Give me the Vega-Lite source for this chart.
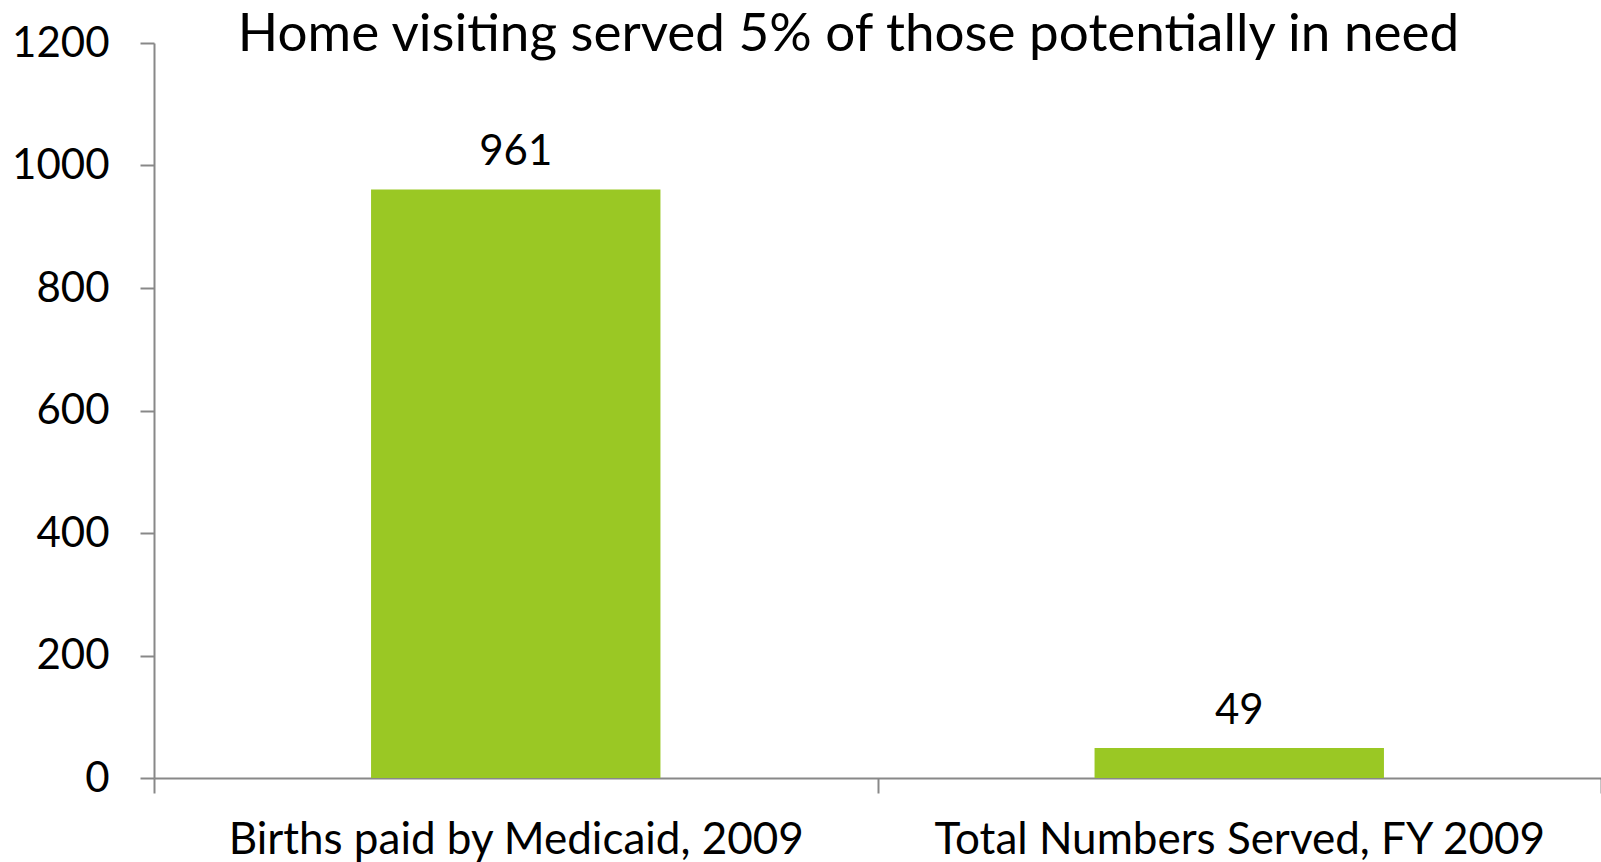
{
  "$schema": "https://vega.github.io/schema/vega-lite/v6.json",
  "autosize": {"type": "none"},
  "padding": {"left": 154, "top": 43, "right": 0, "bottom": 84},
  "width": 1447,
  "height": 735,
  "background": "white",
  "config": {"view": {"stroke": null}},
  "title": {
    "text": "Home visiting served 5% of those potentially in need",
    "font": "Lato",
    "fontSize": 53,
    "fontWeight": "normal",
    "color": "black",
    "anchor": "middle",
    "baseline": "alphabetic",
    "offset": 0,
    "dx": -29,
    "dy": 82
  },
  "data": {
    "values": [
      {"category": "Births paid by Medicaid, 2009", "value": 961},
      {"category": "Total Numbers Served, FY 2009", "value": 49}
    ]
  },
  "encoding": {
    "x": {
      "field": "category",
      "type": "nominal",
      "sort": null,
      "scale": {"paddingInner": 0, "paddingOuter": 0},
      "axis": {
        "title": null,
        "labelAngle": 0,
        "labelLimit": 0,
        "labelFont": "Lato",
        "labelFontSize": 44,
        "labelColor": "black",
        "labelPadding": 25,
        "domainColor": "#888888",
        "domainWidth": 2,
        "tickColor": "#888888",
        "tickWidth": 2,
        "tickSize": 15,
        "tickBand": "extent"
      }
    },
    "y": {
      "field": "value",
      "type": "quantitative",
      "scale": {"domain": [0, 1200]},
      "axis": {
        "title": null,
        "values": [0, 200, 400, 600, 800, 1000, 1200],
        "format": "d",
        "grid": false,
        "labelFont": "Lato",
        "labelFontSize": 42,
        "labelColor": "black",
        "labelPadding": 31,
        "domainColor": "#888888",
        "domainWidth": 2,
        "tickColor": "#888888",
        "tickWidth": 2,
        "tickSize": 14
      }
    }
  },
  "layer": [
    {"mark": {"type": "bar", "color": "#9AC824", "width": {"band": 0.4}}},
    {
      "mark": {"type": "text", "font": "Lato", "fontSize": 42, "color": "black", "baseline": "alphabetic", "dy": -24},
      "encoding": {"text": {"field": "value", "type": "quantitative", "format": "d"}}
    }
  ]
}
